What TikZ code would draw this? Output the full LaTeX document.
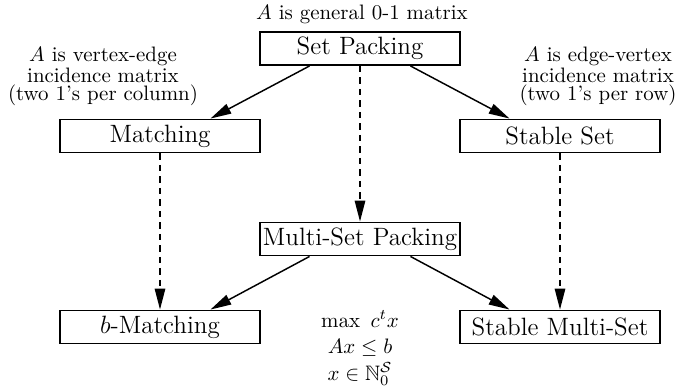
\documentclass[tikz,border=0pt]{standalone}
\usepackage{amsmath,amssymb}
\usetikzlibrary{arrows.meta,calc}

\tikzset{
  problem/.style={draw, line width=0.9pt, minimum width=95.7pt, minimum height=15.8pt,
                  inner sep=0pt, font=\large},
  note/.style={align=center, inner sep=0pt, font=\fontsize{10}{8.8}\selectfont},
  tip/.style={-{Triangle[length=10pt,width=5pt]}},
  solidarrow/.style={tip, line width=0.7pt},
  dashedarrow/.style={tip, line width=0.7pt, dash pattern=on 3pt off 2.5pt},
}

\begin{document}
\begin{tikzpicture}[x=0.4785pt, y=-0.4785pt]
  \useasboundingbox (0,0) rectangle (681,390);

  % problem boxes
  \node[problem] (sp)  at (360,48.5) {Set Packing};
  \node[problem] (m)   at (160,136)  {Matching};
  \node[problem] (ss)  at (560,136)  {Stable Set};
  \node[problem] (msp) at (360,239)  {Multi-Set Packing};
  \node[problem] (bm)  at (160,327)  {$b$-Matching};
  \node[problem] (sms) at (560,327)  {Stable Multi-Set};

  % descriptions of the constraint matrix
  \node[note] (gen)   at (362,14)   {$A$ is general 0-1 matrix};
  \node[note] (ve)    at (103,76.5) {$A$ is vertex-edge\\incidence matrix\\(two 1's per column)};
  \node[note] (ev)    at (598,76.5) {$A$ is edge-vertex\\incidence matrix\\(two 1's per row)};

  % integer program
  \node[align=center, inner sep=0pt, font=\fontsize{10}{12.6}\selectfont] (ip) at (360,348)
    {$\max\ c^t x$\\ $Ax \le b$\\ $x \in \mathbb{N}_0^{\mathcal{S}}$};

  % specialisations
  \draw[solidarrow] ($(sp.south west)!0.25!(sp.south east)$) -- ($(m.north west)!0.75!(m.north east)$);
  \draw[solidarrow] ($(sp.south west)!0.75!(sp.south east)$) -- ($(ss.north west)!0.25!(ss.north east)$);
  \draw[solidarrow] ($(msp.south west)!0.25!(msp.south east)$) -- ($(bm.north west)!0.75!(bm.north east)$);
  \draw[solidarrow] ($(msp.south west)!0.75!(msp.south east)$) -- ($(sms.north west)!0.25!(sms.north east)$);

  % generalisations
  \draw[dashedarrow] (sp.south) -- (msp.north);
  \draw[dashedarrow] (m.south)  -- (bm.north);
  \draw[dashedarrow] (ss.south) -- (sms.north);
\end{tikzpicture}
\end{document}
